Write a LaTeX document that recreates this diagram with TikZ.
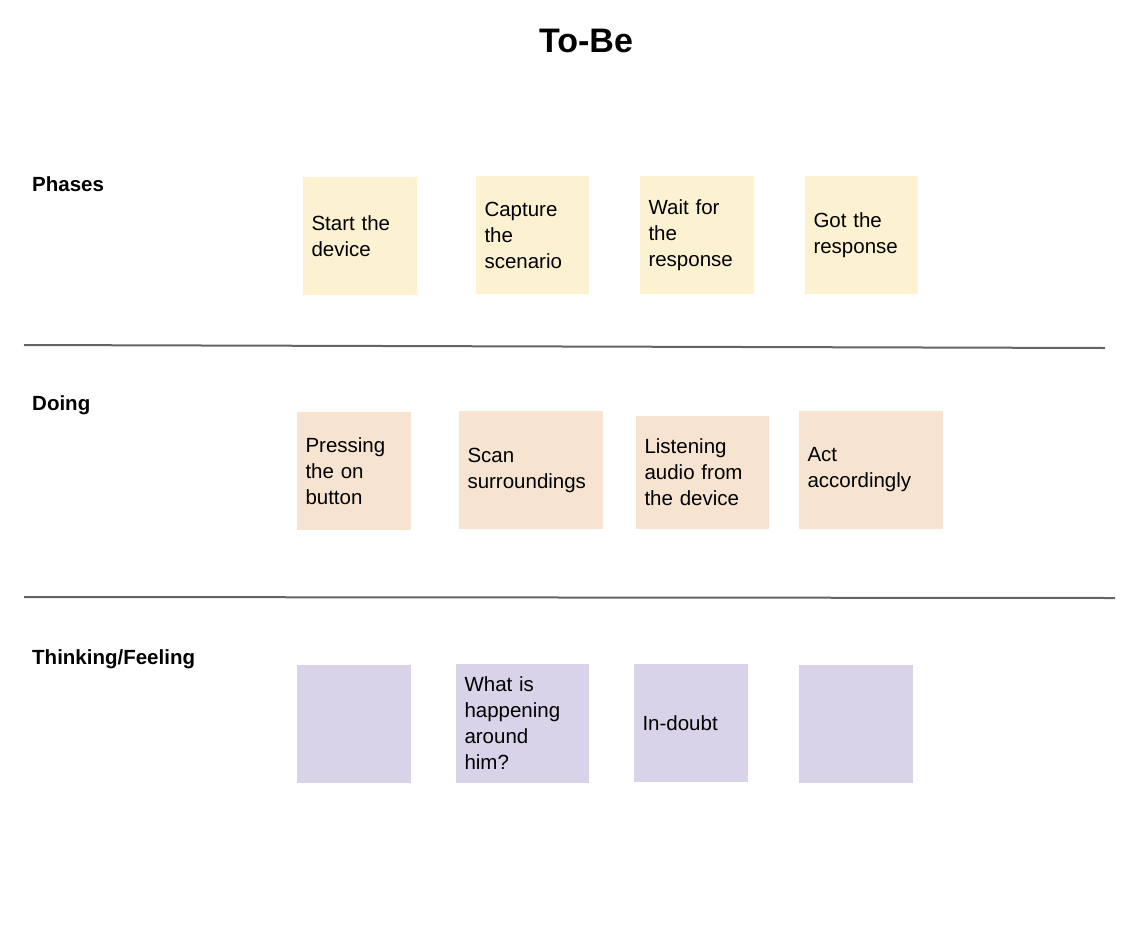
\documentclass[tikz,border=0pt]{standalone}
\usepackage{fontspec}
\setmainfont{Liberation Sans}
\definecolor{phasecol}{RGB}{252,241,208}
\definecolor{doingcol}{RGB}{246,228,209}
\definecolor{thinkcol}{RGB}{216,211,232}
\definecolor{rulecol}{RGB}{100,100,100}
\begin{document}
\begin{tikzpicture}[
        x=1pt, y=-1pt, % pixel grid, y grows downwards
        note/.style 2 args={rectangle, minimum width=#1, minimum height=118pt,
            text width=#2, inner xsep=8.5pt, inner ysep=0pt, align=left,
            font=\fontsize{20.5}{26}\selectfont}, % sticky note
        phase/.style={fill=phasecol},
        doing/.style={fill=doingcol},
        think/.style={fill=thinkcol},
        rowlabel/.style={anchor=base west, inner sep=0pt, font=\fontsize{20.5}{24}\selectfont\bfseries},
        divider/.style={draw=rulecol, line width=2pt},
    ]
    \useasboundingbox (0,0) rectangle (1148,924);

    \node[font=\fontsize{34}{40}\selectfont\bfseries, anchor=base] (title) at (586,52) {To-Be};

    % row labels
    \node[rowlabel] (lphases) at (32,191) {Phases};
    \node[rowlabel] (ldoing) at (32,410) {Doing};
    \node[rowlabel] (lthink) at (32,664) {Thinking/Feeling};

    % phases
    \node[note={114pt}{97pt}, phase] (ph1) at (360,236) {Start the\\device};
    \node[note={113pt}{96pt}, phase] (ph2) at (532.5,235) {Capture\\the\\scenario};
    \node[note={114pt}{97pt}, phase] (ph3) at (697,235) {Wait for\\the\\response};
    \node[note={113pt}{96pt}, phase] (ph4) at (861.5,235) {Got the\\response};

    % doing
    \node[note={114pt}{97pt}, doing] (do1) at (354,471) {Pressing\\the on\\button};
    \node[note={144pt}{127pt}, doing] (do2) at (531,470) {Scan\\surroundings};
    \node[note={133pt}{116pt}, doing, minimum height=113pt] (do3) at (702.5,472.5) {Listening\\audio from\\the device};
    \node[note={144pt}{127pt}, doing] (do4) at (871,470) {Act\\accordingly};

    % thinking / feeling
    \node[note={114pt}{97pt}, think] (th1) at (354,724) {};
    \node[note={133pt}{116pt}, think, minimum height=119pt] (th2) at (522.5,723.5) {What is\\happening\\around\\him?};
    \node[note={114pt}{97pt}, think] (th3) at (691,723) {In-doubt};
    \node[note={114pt}{97pt}, think] (th4) at (856,724) {};

    % dividers
    \coordinate (d1a) at (24,345);
    \coordinate (d1b) at (1105,348);
    \coordinate (d2a) at (24,597);
    \coordinate (d2b) at (1115,598);
    \draw[divider] (d1a) -- (d1b);
    \draw[divider] (d2a) -- (d2b);
\end{tikzpicture}
\end{document}
